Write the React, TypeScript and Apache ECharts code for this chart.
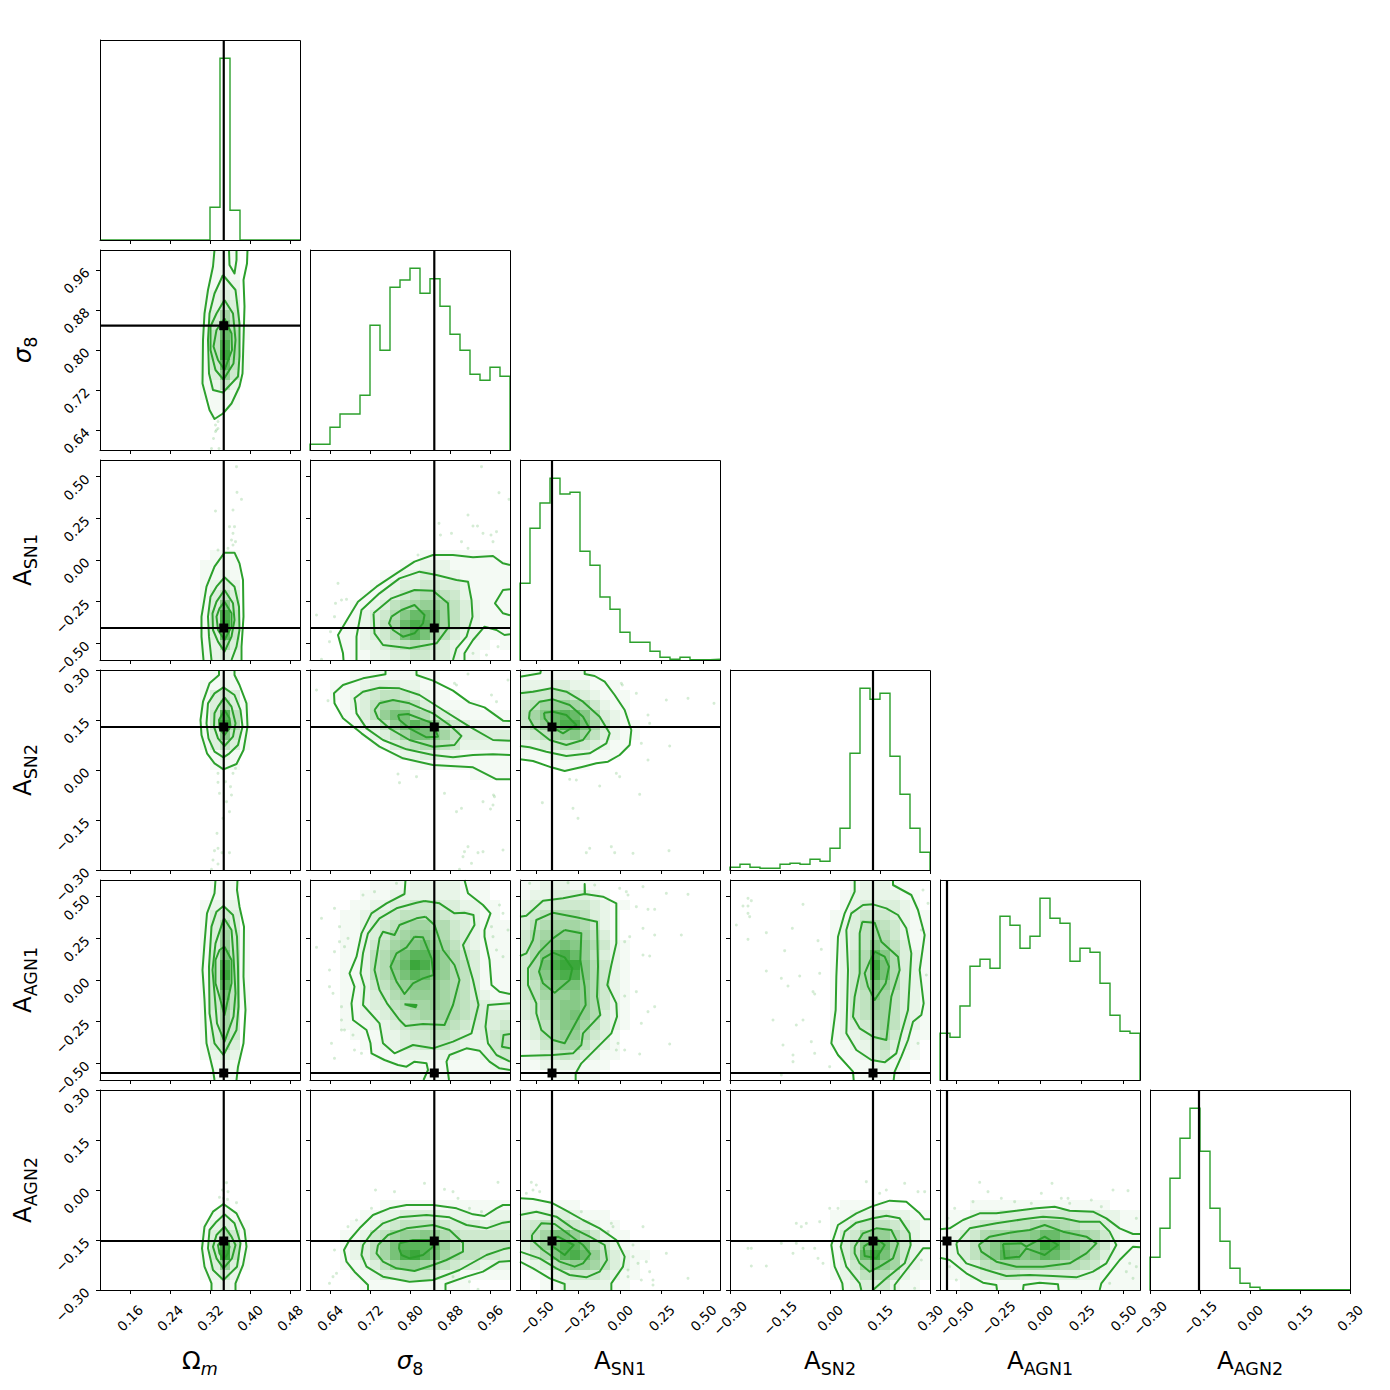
import React, { useEffect, useRef } from "react";
import * as echarts from "echarts";

// ---------- parameter ranges, ticks, true values ----------
const omegaRange = [0.1, 0.5];
const sigmaRange = [0.6, 1.0];
const sn1Range = [-0.6, 0.6];
const sn2Range = [-0.3, 0.3];
const agn1Range = [-0.6, 0.6];
const agn2Range = [-0.3, 0.3];

const omegaTicks = [0.16, 0.24, 0.32, 0.4, 0.48];
const sigmaTicks = [0.64, 0.72, 0.8, 0.88, 0.96];
const sn1Ticks = [-0.5, -0.25, 0, 0.25, 0.5];
const sn2Ticks = [-0.3, -0.15, 0, 0.15, 0.3];
const agn1Ticks = [-0.5, -0.25, 0, 0.25, 0.5];
const agn2Ticks = [-0.3, -0.15, 0, 0.15, 0.3];

const truths = [0.3475, 0.8486, -0.408, 0.129, -0.558, -0.153];
const axisNames = ["{b|Ω}{si|m}", "{i|σ}{s|8}", "{b|A}{s|SN1}", "{b|A}{s|SN2}", "{b|A}{s|AGN1}", "{b|A}{s|AGN2}"];
const ranges = [omegaRange, sigmaRange, sn1Range, sn2Range, agn1Range, agn2Range];
const ticks = [omegaTicks, sigmaTicks, sn1Ticks, sn2Ticks, agn1Ticks, agn2Ticks];

// ---------- 1-D histograms (20 bins, heights on a 0-200 scale) ----------
const histOmega = [0, 0, 0, 0, 0, 0, 0, 0, 0, 0, 0, 32.7, 181.7, 29.7, 0, 0, 0, 0, 0, 0];
const histSigma = [5.7, 5.7, 22.7, 36, 36, 54.7, 124.7, 99.7, 162.7, 170, 181.7, 156.7, 171.3, 143.7, 115.7, 99.7, 75.7, 69.7, 82.7, 73.7];
const histSn1 = [76.7, 131.7, 157, 181.7, 166, 167.7, 108.7, 94.7, 63, 50.7, 27.7, 17.7, 17.7, 8.7, 2.7, 0.7, 2.7, 0.3, 0.3, 0.7];
const histSn2 = [2.7, 5.7, 2.7, 1.7, 1.7, 5.7, 6.7, 5.7, 10.7, 8.7, 21.7, 41.7, 116.7, 181.7, 170.7, 176.7, 113.7, 75.7, 41.7, 17.7];
const histAgn1 = [46.7, 42.7, 74, 113.7, 120.7, 111.7, 163.7, 154.7, 131.7, 143.7, 181.7, 161.7, 156.7, 118.7, 131.7, 127.7, 96.7, 64.7, 48.7, 46.7];
const histAgn2 = [32.7, 61.7, 111.7, 151.7, 181.7, 138.7, 81.7, 48.7, 21.7, 6.7, 2.7, 0.3, 0.2, 0.2, 0.2, 0.2, 0.2, 0.2, 0.2, 0.2];
const hists = [histOmega, histSigma, histSn1, histSn2, histAgn1, histAgn2];

// ---------- 2-D panels: contours (x,y,x,y,… in data units), density rows (top row first, hex 0-f), faint samples ----------
const contoursSigmaOmega = [
  [.329,1,.326,.967,.316,.92,.309,.873,.306,.82,.305,.733,.319,.68,.329,.662,.346,.673,.363,.693,.379,.727,.385,.753,.387,.82,.389,.887,.387,.94,.394,.973,.395,1],
  [.346,.95,.371,.92,.379,.853,.379,.787,.376,.747,.346,.715,.326,.72,.318,.753,.316,.82,.319,.873,.329,.913,.346,.95],
  [.358,1,.359,.97,.369,.953,.373,.98,.373,1],
  [.349,.9,.366,.873,.371,.82,.367,.773,.347,.741,.331,.76,.321,.8,.321,.847,.333,.873,.349,.9],
  [.349,.863,.363,.833,.364,.8,.349,.76,.336,.78,.327,.807,.333,.84,.349,.863],
];
const cellsSigmaOmega = ["00000000000111000000","00000000000111000000","00000000000121000000","00000000000122000000","00000000001232000000","00000000001243000000","00000000001374000000","00000000001495100000","000000000015b6100000","000000000015d6000000","000000000015e6100000","000000000014b5100000","00000000001384000000","00000000001252000000","00000000001121000000","00000000000111000000","00000000000100000000"];
const dotsSigmaOmega = [.336,.657,.331,.65,.336,.643,.331,.637,.333,.64,.327,.623,.323,.603,.338,.603];

const contoursSn1Omega = [
  [.307,-.6,.303,-.46,.303,-.34,.313,-.16,.329,-.04,.349,.044,.369,.044,.379,-.02,.386,-.12,.387,-.34,.383,-.52,.383,-.6],
  [.323,-.6,.318,-.46,.316,-.34,.321,-.22,.333,-.16,.349,-.104,.369,-.16,.378,-.28,.379,-.42,.373,-.52,.363,-.6],
  [.349,-.18,.366,-.26,.369,-.36,.363,-.46,.349,-.55,.336,-.49,.326,-.42,.325,-.32,.333,-.25,.349,-.18],
  [.349,-.25,.363,-.32,.363,-.4,.349,-.48,.336,-.42,.333,-.34,.339,-.29,.349,-.25],
];
const cellsSn1Omega = ["","","","","","","","","","00000000000111000000","00000000001111000000","00000000001121000000","00000000001232000000","00000000001353000000","00000000001394000000","000000000014d5000000","000000000014e5000000","000000000013b4000000","00000000001263000000","00000000001232000000"];
const dotsSn1Omega = [.373,.56,.374,.406,.383,.364,.331,.294,.366,.3,.359,.2,.369,.2,.366,.16,.363,.12,.371,.11,.366,.09,.356,.07,.336,.06];

const contoursSn2Omega = [
  [.338,.3,.338,.285,.319,.26,.306,.205,.301,.15,.303,.105,.314,.05,.329,.02,.347,.002,.373,.018,.387,.06,.395,.13,.393,.2,.379,.255,.369,.285,.369,.3],
  [.347,.248,.369,.225,.381,.18,.385,.13,.376,.075,.359,.05,.347,.038,.329,.055,.317,.095,.313,.14,.316,.2,.329,.23,.347,.248],
  [.349,.218,.363,.19,.371,.14,.366,.1,.349,.072,.336,.095,.328,.13,.329,.17,.336,.19,.349,.218],
  [.349,.18,.359,.155,.361,.13,.349,.105,.339,.125,.338,.15,.349,.18],
];
const cellsSn2Omega = ["00000000000111000000","00000000001121000000","00000000001343000000","00000000001363100000","000000000014c5100000","000000000014e6100000","00000000001394100000","00000000001353100000","00000000000121000000","00000000000111000000"];
const dotsSn2Omega = [.336,-.01,.366,-.01,.371,.005,.336,-.037,.351,-.035,.361,-.05,.339,-.07,.363,-.075,.353,-.095,.359,-.125,.346,-.145,.334,-.19,.336,-.235,.329,-.242,.344,-.248,.359,-.248,.326,-.27,.336,-.282,.323,-.298];

const contoursAgn1Omega = [
  [.331,.6,.329,.52,.314,.4,.309,.22,.305,.06,.309,-.12,.313,-.38,.326,-.54,.329,-.6],
  [.373,-.6,.376,-.52,.387,-.38,.391,-.18,.387,.02,.388,.32,.379,.44,.374,.54,.375,.6],
  [.347,.444,.366,.39,.374,.26,.376,.08,.377,-.16,.373,-.3,.347,-.45,.329,-.38,.319,-.2,.318,.08,.323,.32,.333,.41,.347,.444],
  [.348,.37,.363,.3,.367,.14,.371,-.08,.367,-.22,.349,-.37,.334,-.26,.329,-.08,.325,.06,.331,.22,.348,.37],
  [.349,.2,.363,.12,.363,-.02,.349,-.21,.339,-.1,.331,-.02,.331,.12,.339,.18,.349,.2],
];
const cellsAgn1Omega = ["00000000000111000000","00000000000111000000","00000000001222000000","00000000001343000000","00000000001363000000","00000000001374100000","00000000001384100000","000000000014a5100000","000000000014d5100000","000000000014e5100000","000000000014c5100000","000000000014a5100000","00000000001485100000","00000000001374000000","00000000001374000000","00000000001364000000","00000000001353000000","00000000001232000000","00000000000121000000","00000000000111000000"];

const contoursAgn2Omega = [
  [.323,-.3,.323,-.28,.309,-.23,.304,-.175,.309,-.11,.326,-.065,.347,-.042,.373,-.07,.389,-.12,.393,-.17,.386,-.225,.371,-.28,.371,-.3],
  [.349,-.073,.369,-.1,.381,-.16,.374,-.23,.347,-.27,.326,-.24,.316,-.175,.319,-.12,.333,-.095,.349,-.073],
  [.349,-.11,.363,-.14,.371,-.165,.364,-.205,.347,-.235,.333,-.205,.326,-.17,.333,-.135,.349,-.11],
  [.348,-.14,.359,-.17,.356,-.19,.347,-.21,.339,-.19,.336,-.165,.348,-.14],
];
const cellsAgn2Omega = ["","","","","","","","","","","","00000000000010000000","00000000000121000000","00000000001232100000","00000000001364100000","000000000014d5100000","000000000014e5100000","00000000001383100000","00000000001242000000","00000000000121000000"];
const dotsAgn2Omega = [.353,.022,.345,0,.356,-.005,.339,-.022,.347,-.025,.355,-.028,.373,-.038];

const contoursSn1Sigma = [
  [.667,-.6,.666,-.56,.656,-.45,.676,-.35,.696,-.25,.733,-.16,.773,-.08,.809,-.01,.846,.03,.886,.03,.926,.016,.966,.024,.986,-.02,1,-.03],
  [.909,-.6,.909,-.56,.926,-.48,.949,-.4,.973,-.42,.989,-.45,1,-.446],
  [1,-.176,.986,-.18,.97,-.26,.986,-.32,1,-.332],
  [.693,-.6,.693,-.46,.703,-.3,.739,-.2,.779,-.11,.819,-.07,.853,-.09,.893,-.12,.916,-.13,.923,-.24,.925,-.34,.913,-.46,.893,-.53,.886,-.6],
  [.727,-.32,.763,-.23,.809,-.18,.846,-.184,.876,-.26,.878,-.4,.853,-.5,.799,-.53,.746,-.51,.729,-.44,.727,-.32],
  [.763,-.34,.783,-.3,.809,-.27,.829,-.33,.826,-.38,.809,-.44,.786,-.46,.766,-.42,.758,-.38,.763,-.34],
];
const cellsSn1Sigma = ["","","","","","","","","","00000000000111111110","00000000011222111111","00000001122332211111","00000011233443321111","00000112345665421111","00001123567887532111","0000123469bba7532111","000112357bdca7532111","000112346aca75322111","00011223456543211101","00001122334433211000"];
const dotsSn1Sigma = [.943,.56,.978,.404,.998,.364,.916,.27,.858,.22,.861,.15,.883,.16,.926,.204,.935,.204,.946,.16,.962,.15,.973,.17,.903,.11,.916,.07,.966,.11,.816,.03,.656,-.14,.663,-.24,.673,-.236,.651,-.26,.613,-.33,.649,-.34,.641,-.43,.639,-.49,.976,-.52,.953,-.57,.926,-.56,.623,-.596];

const contoursSn2Sigma = [
  [.751,.3,.751,.287,.706,.275,.666,.255,.648,.23,.649,.2,.666,.155,.703,.11,.739,.07,.786,.035,.846,.015,.926,.008,.973,-.028,1,-.028],
  [.813,.3,.813,.285,.846,.268,.886,.238,.919,.202,.949,.188,.986,.148,1,.147],
  [1,.045,.966,.047,.926,.045,.886,.038,.846,.045,.793,.062,.746,.09,.713,.125,.693,.17,.691,.2,.689,.215,.706,.235,.739,.247,.779,.245,.819,.225,.866,.18,.919,.13,.966,.09,1,.088],
  [.729,.18,.739,.2,.766,.21,.799,.2,.846,.17,.879,.135,.903,.102,.889,.075,.846,.07,.799,.09,.759,.125,.736,.155,.729,.18],
  [.776,.165,.796,.168,.846,.14,.856,.1,.833,.098,.799,.125,.779,.15,.776,.165],
];
const cellsSn2Sigma = ["00001111111110000000","00111233322110000000","00112345543211000000","00012357765321111000","00011358aa7643211111","000012358aca86432222","0000012357aa97533333","00000011345665422222","00000000122332211111","00000000001111111111","00000000000000001111"];
const dotsSn2Sigma = [.613,.24,.636,.208,.889,.26,.916,.288,.893,.255,.963,.225,.973,.205,.996,.27,.776,-.012,.813,-.02,.779,-.038,.869,-.07,.903,-.115,.946,-.095,.966,-.105,.961,-.117,.916,-.23,.909,-.245,.936,-.248,.946,-.245,.986,-.24,.967,-.075,.969,-.08,.906,-.26,.923,-.28,.899,-.298,.893,-.125];

const contoursSn2Sn1 = [
  [-.6,.28,-.478,.29,-.474,.3],
  [-.212,.3,-.212,.288,-.152,.282,-.092,.265,-.032,.225,.028,.18,.068,.12,.058,.075,-.002,.045,-.072,.025,-.142,.02,-.222,.01,-.332,-.003,-.412,.008,-.522,.027,-.6,.032],
  [-.6,.23,-.522,.235,-.412,.245,-.322,.235,-.222,.205,-.122,.16,-.062,.11,-.082,.08,-.182,.05,-.322,.042,-.442,.055,-.542,.068,-.6,.072],
  [-.542,.175,-.482,.205,-.402,.212,-.302,.195,-.222,.16,-.178,.12,-.222,.09,-.322,.075,-.422,.09,-.512,.125,-.546,.155,-.542,.175],
  [-.456,.172,-.402,.175,-.322,.165,-.262,.135,-.342,.11,-.412,.13,-.452,.155,-.456,.172],
];
const cellsSn2Sn1 = ["11111111000000000000","22233221110000000000","34455432111000000000","45788764211000000000","579bcb96321000000000","468bdda7421100000000","34578975321100000000","22345543211000000000","11122221110000000000","00011110000000000000"];
const dotsSn2Sn1 = [.008,.26,.014,.255,.098,.23,.168,.165,.178,.14,.278,.21,.408,.215,.564,.2,.128,.08,.298,.072,.168,.03,-.002,-.02,-.122,-.048,-.262,-.03,-.302,-.028,.118,-.073,-.466,-.098,-.282,-.115,-.252,-.145,-.202,-.248,-.182,-.235,-.052,-.23,.078,-.25,.294,-.242,-.032,-.248,-.022,-.01];

const contoursAgn1Sigma = [
  [.791,.6,.789,.516,.753,.46,.723,.4,.703,.28,.693,.14,.679,.04,.689,-.04,.683,-.14,.686,-.24,.713,-.3,.721,-.38,.723,-.44,.749,-.48,.776,-.51,.793,-.52,.809,-.49,.833,-.5,.836,-.54,.827,-.6],
  [.909,.6,.916,.52,.946,.45,.961,.4,.949,.3,.949,.26,.959,.12,.963,-.03,.979,-.07,1,-.084],
  [.878,-.6,.873,-.49,.879,-.45,.913,-.41,.939,-.424,.959,-.49,.979,-.53,1,-.54],
  [1,-.14,.956,-.15,.951,-.28,.956,-.38,.973,-.45,1,-.49],
  [1,-.324,.987,-.33,.984,-.4,1,-.41],
  [.829,.474,.813,.464,.773,.43,.739,.37,.716,.28,.706,.16,.701,.04,.709,-.04,.706,-.15,.739,-.26,.746,-.38,.769,-.44,.806,-.39,.846,-.41,.886,-.37,.923,-.32,.937,-.15,.926,0,.906,.21,.929,.33,.927,.39,.909,.404,.889,.4,.859,.46,.829,.474],
  [.831,.38,.813,.37,.779,.33,.769,.27,.746,.29,.739,.25,.729,.06,.739,-.06,.754,-.14,.779,-.24,.791,-.276,.826,-.264,.869,-.27,.886,-.15,.899,0,.889,.09,.866,.18,.849,.33,.831,.38],
  [.809,.26,.826,.256,.843,.13,.847,.03,.826,.01,.806,-.02,.789,-.084,.773,-.01,.761,.08,.773,.16,.793,.196,.809,.26],
  [.789,-.146,.813,-.15,.811,-.164,.789,-.146],
];
const cellsAgn1Sigma = ["00000011112222211100","00000111222222211100","00001122334443322110","00011233455554332110","00011234567766432111","00011234678876432111","00011245789a87532111","000112568acca8643111","000112569beda8653111","000112568acb98653111","00011245789987653111","00011234678887653211","00011233567787654322","00011223456777654333","00011122345566543334","00001112234455432345","00000112233444322245","00000011122222211234","00000001111111111122","00000000111111111111"];
const dotsAgn1Sigma = [.649,.43,.623,.37,.659,.32,.676,.25,.659,.23,.613,.196,.669,.2,.649,.17,.639,.06,.639,-.04,.646,-.08,.663,-.16,.663,-.24,.663,-.3,.669,-.3,.686,-.33,.703,-.44,.649,-.47,.643,-.38,.689,-.42,.706,.51,.729,.53,.773,.58,.979,.45,.986,.4,.963,.32,.973,.18,.986,.14,.996,.3,.966,.26];

const contoursAgn1Sn1 = [
  [-.6,.38,-.562,.386,-.462,.476,-.342,.49,-.212,.516,-.212,.576,-.21,.516,-.102,.5,-.022,.46,-.022,.22,-.052,.09,-.076,-.03,-.022,-.14,-.018,-.22,-.052,-.32,-.142,-.41,-.232,-.5,-.266,-.56,-.266,-.6],
  [-.6,.144,-.562,.16,-.522,.24,-.502,.36,-.402,.404,-.262,.376,-.138,.35,-.132,.08,-.138,-.1,-.118,-.21,-.222,-.32,-.232,-.39,-.282,-.44,-.402,-.45,-.6,-.456],
  [-.332,.3,-.232,.28,-.238,.12,-.212,-.04,-.206,-.15,-.262,-.25,-.332,-.38,-.402,-.36,-.472,-.3,-.502,-.2,-.502,-.14,-.552,-.03,-.552,.07,-.482,.17,-.402,.25,-.332,.3],
  [-.402,.164,-.332,.136,-.286,.07,-.302,0,-.392,-.076,-.462,-.02,-.486,.05,-.462,.13,-.402,.164],
];
const cellsAgn1Sn1 = ["11222111000000000000","12233332100000000000","23344443211000000000","34566653210000000000","35677764210000000000","46788875310000000000","4689a986421000000000","469cdb85321000000000","46adee96421000000000","469cdd96421000000000","458aaa86421000000000","45788986421000000000","34689986421000000000","34689a86321000000000","23579975321000000000","23578864310000000000","12467753210000000000","12345432110000000000","11222211100000000000","00011111000000000000"];
const dotsAgn1Sn1 = [-.542,.58,-.312,.584,-.152,.57,-.002,.55,.038,.53,.048,.51,.138,.56,.408,.514,.278,.52,.098,.44,.168,.424,.208,.424,.138,.31,.058,.26,.208,.27,.028,.23,.178,.144,.138,.15,.368,.27,.028,-.096,.098,-.07,.168,-.19,.208,-.16,.128,-.26,.028,-.42,.298,-.384,.118,-.444,-.022,-.42,-.012,-.38];

const contoursAgn1Sn2 = [
  [.074,.6,.074,.53,.044,.4,.024,.26,.019,.02,.017,-.18,.004,-.38,.024,-.45,.069,-.55,.071,-.6],
  [.189,.6,.189,.57,.244,.51,.264,.42,.284,.27,.269,.06,.281,-.14,.274,-.21,.249,-.25,.234,-.36,.214,-.46,.194,-.55,.191,-.6],
  [.129,.454,.099,.45,.064,.4,.049,.3,.054,.06,.051,-.18,.049,-.32,.079,-.42,.124,-.48,.164,-.494,.199,-.44,.214,-.32,.234,-.18,.244,.16,.229,.31,.204,.39,.169,.43,.129,.454],
  [.097,.35,.134,.344,.154,.23,.204,.14,.209,.06,.184,-.1,.169,-.36,.129,-.34,.089,-.29,.069,-.22,.074,-.1,.089,.04,.089,.28,.097,.35],
  [.134,.17,.164,.14,.177,.08,.167,-.02,.134,-.12,.114,-.04,.104,.04,.119,.11,.134,.17],
];
const cellsAgn1Sn2 = ["00000000000012221100","00000000000122222110","00000000000123333210","00000000001134443211","00000000001235654211","00000000001235764211","00000000001235975311","00000000001246c96321","00000000001246ea6321","00000000001246da6321","00000000001246a86321","00000000001245975321","00000000001245875321","00000000001245775321","00000000001234675321","00000000001223564211","00000000001122453210","00000000000112342110","00000000000011221100","00000000000001111000"];
const dotsAgn1Sn2 = [-.246,.49,-.236,.476,-.246,.444,-.261,.444,-.246,.4,-.241,.38,-.281,.33,-.246,.244,-.191,.284,-.113,.31,-.081,.454,-.136,.176,-.026,.184,-.036,.236,-.191,.054,-.146,.01,-.091,.024,-.031,.04,-.126,-.036,-.051,-.07,-.046,-.084,-.081,-.24,-.101,-.27,-.171,-.24,-.056,-.37,-.141,-.39,-.111,-.45,-.046,-.44,-.001,-.52,-.111,-.49,.279,.54,.294,.46,.274,.3,.289,.03,.264,-.38,-.146,-.57];

const contoursAgn2Sigma = [
  [.716,-.3,.716,-.285,.689,-.245,.673,-.215,.668,-.18,.679,-.15,.699,-.115,.726,-.075,.759,-.055,.793,-.045,.846,-.045,.893,-.055,.926,-.073,.949,-.078,.973,-.055,.986,-.045,1,-.045],
  [.871,-.3,.871,-.282,.913,-.26,.946,-.245,.979,-.215,1,-.213],
  [1,-.095,.986,-.098,.953,-.115,.913,-.105,.879,-.082,.833,-.075,.779,-.082,.746,-.1,.723,-.13,.706,-.165,.703,-.195,.713,-.23,.746,-.26,.799,-.275,.846,-.27,.899,-.24,.953,-.195,.986,-.178,1,-.173],
  [.736,-.165,.756,-.135,.793,-.115,.846,-.105,.879,-.12,.906,-.158,.906,-.185,.873,-.21,.846,-.225,.809,-.243,.773,-.235,.746,-.215,.733,-.19,.736,-.165],
  [.779,-.16,.806,-.15,.843,-.15,.846,-.17,.826,-.195,.799,-.205,.783,-.195,.778,-.175,.779,-.16],
];
const cellsAgn2Sigma = ["","","","","","","","","","","","00000001111111111111","00000112233332221122","00001123455554333233","00011245788986544444","00012357acccb8655555","00012357adeca7655443","00011235788765433222","00001123344432211111","00000111111111110000"];
const dotsAgn2Sigma = [.829,.02,.976,.023,.731,0,.769,-.005,.869,.002,.886,-.005,.896,-.025,.723,-.055,.693,-.09,.676,-.11,.649,-.18,.646,-.26,.639,-.28,.653,-.25,.919,-.055,.943,-.065,.886,-.26,.919,-.275,.936,-.298];

const contoursAgn2Sn1 = [
  [-.6,-.025,-.522,-.027,-.412,-.038,-.322,-.062,-.222,-.09,-.122,-.115,-.022,-.15,.028,-.2,.018,-.23,-.052,-.28,-.052,-.3],
  [-.6,-.215,-.522,-.235,-.422,-.265,-.332,-.282,-.332,-.3],
  [-.6,-.075,-.502,-.065,-.382,-.08,-.282,-.115,-.182,-.14,-.092,-.165,-.078,-.21,-.122,-.245,-.202,-.262,-.302,-.255,-.382,-.235,-.482,-.205,-.6,-.185],
  [-.528,-.135,-.472,-.1,-.392,-.102,-.302,-.135,-.222,-.165,-.178,-.192,-.222,-.22,-.272,-.23,-.362,-.215,-.462,-.18,-.528,-.15,-.528,-.135],
  [-.432,-.148,-.372,-.14,-.278,-.165,-.332,-.195,-.402,-.17,-.432,-.148],
];
const cellsAgn2Sn1 = ["","","","","","","","","","","","11111100000000000000","22233211100000000000","34555432110000000000","457aa864211000000000","358bdca6421100000000","2469cdb8532110000000","12357887532100000000","01123444321100000000","00112222211000000000"];
const dotsAgn2Sn1 = [-.532,.023,-.502,.015,-.522,0,-.482,-.005,-.562,-.01,-.232,-.065,-.052,-.1,.138,-.11,-.072,-.125,.048,-.24,.048,-.26,.078,-.2,.108,-.22,.158,-.215,.178,-.245,.128,-.27,.198,-.27,.408,-.265,.278,-.19,.198,-.285,.078,-.165,-.042,-.11];

const contoursAgn2Sn2 = [
  [.039,-.3,.037,-.28,.014,-.23,.004,-.165,.024,-.105,.079,-.07,.124,-.05,.179,-.032,.229,-.035,.269,-.07,.284,-.088,.3,-.088],
  [.194,-.3,.194,-.285,.229,-.24,.279,-.175,.3,-.175],
  [.094,-.3,.089,-.28,.049,-.23,.032,-.17,.044,-.125,.079,-.098,.129,-.085,.169,-.077,.209,-.085,.239,-.13,.242,-.165,.224,-.22,.169,-.265,.129,-.3],
  [.074,-.17,.099,-.13,.139,-.115,.184,-.12,.204,-.16,.189,-.205,.149,-.23,.119,-.245,.089,-.22,.074,-.19,.074,-.17],
  [.101,-.17,.139,-.145,.164,-.165,.139,-.205,.104,-.198,.101,-.17],
];
const cellsAgn2Sn2 = ["","","","","","","","","","","","00000000000111111000","00000000001122332211","00000000001234554321","00000000001347886421","00000000001359cb7421","0000000000135bea7421","00000000001247a87321","00000000001235664211","00000000000123342110"];
const dotsAgn2Sn2 = [-.246,-.175,-.236,-.175,-.236,-.228,-.191,-.228,-.146,-.16,-.101,-.16,-.081,-.175,-.046,-.175,-.111,-.19,-.036,-.205,-.021,-.22,-.101,-.1,-.086,-.11,-.071,-.1,-.031,-.095,-.001,-.055,.024,-.055,.109,.025,.149,-.01,.169,0,.224,.02,.264,-.005,.284,-.005,.254,-.295,.274,-.21];

const contoursAgn2Agn1 = [
  [-.6,-.118,-.542,-.115,-.462,-.09,-.362,-.07,-.262,-.07,-.142,-.062,-.022,-.055,.088,-.05,.178,-.062,.318,-.065,.398,-.085,.478,-.115,.558,-.132,.6,-.132],
  [-.6,-.203,-.542,-.21,-.442,-.25,-.342,-.278,-.262,-.285,-.258,-.3],
  [-.102,-.3,-.098,-.285,-.002,-.278,.108,-.283,.112,-.3],
  [.358,-.3,.368,-.28,.478,-.21,.558,-.17,.6,-.172],
  [-.502,-.16,-.422,-.115,-.262,-.1,-.102,-.088,.018,-.08,.138,-.085,.238,-.095,.358,-.095,.418,-.125,.458,-.165,.398,-.22,.318,-.245,.218,-.262,.078,-.258,-.062,-.255,-.202,-.258,-.322,-.24,-.442,-.22,-.492,-.19,-.502,-.16],
  [-.368,-.165,-.302,-.14,-.182,-.128,-.062,-.12,.028,-.105,.138,-.125,.278,-.14,.338,-.16,.278,-.19,.178,-.22,.018,-.23,-.142,-.23,-.262,-.215,-.352,-.185,-.368,-.165],
  [-.222,-.162,-.112,-.16,-.082,-.17,.028,-.14,.108,-.165,.028,-.195,-.082,-.175,-.122,-.2,-.212,-.205,-.222,-.162],
];
const cellsAgn2Agn1 = ["","","","","","","","","","","","00011111111111111000","11122233334443332211","11234445567765443211","1234677889bb98764211","123579ba9aeda8764211","123579cb9acb98753211","11235677777766542111","11123344333333221111","00111111111111111111"];
const dotsAgn2Agn1 = [-.362,.023,-.312,-.005,-.402,-.035,-.232,-.025,-.152,-.035,-.052,-.04,.008,-.01,.072,.02,.128,-.025,.168,-.025,.178,-.04,.308,-.03,.368,-.05,.438,0,.528,-.002,-.512,-.055,-.552,-.085,.578,-.085,.538,-.22,.518,-.245,.578,-.23,.558,-.265,.418,-.28,-.542,-.23,-.502,-.27];

// row, column, contours, density rows, samples
const panels: [number, number, number[][], string[], number[]][] = [
  [1, 0, contoursSigmaOmega, cellsSigmaOmega, dotsSigmaOmega],
  [2, 0, contoursSn1Omega, cellsSn1Omega, dotsSn1Omega],
  [3, 0, contoursSn2Omega, cellsSn2Omega, dotsSn2Omega],
  [4, 0, contoursAgn1Omega, cellsAgn1Omega, []],
  [5, 0, contoursAgn2Omega, cellsAgn2Omega, dotsAgn2Omega],
  [2, 1, contoursSn1Sigma, cellsSn1Sigma, dotsSn1Sigma],
  [3, 1, contoursSn2Sigma, cellsSn2Sigma, dotsSn2Sigma],
  [4, 1, contoursAgn1Sigma, cellsAgn1Sigma, dotsAgn1Sigma],
  [5, 1, contoursAgn2Sigma, cellsAgn2Sigma, dotsAgn2Sigma],
  [3, 2, contoursSn2Sn1, cellsSn2Sn1, dotsSn2Sn1],
  [4, 2, contoursAgn1Sn1, cellsAgn1Sn1, dotsAgn1Sn1],
  [5, 2, contoursAgn2Sn1, cellsAgn2Sn1, dotsAgn2Sn1],
  [4, 3, contoursAgn1Sn2, cellsAgn1Sn2, dotsAgn1Sn2],
  [5, 3, contoursAgn2Sn2, cellsAgn2Sn2, dotsAgn2Sn2],
  [5, 4, contoursAgn2Agn1, cellsAgn2Agn1, dotsAgn2Agn1],
];

// ---------- layout and style ----------
const GREEN = "#2ca02c";
const FONT = "DejaVu Sans";
const BINS = 20;
const HIST_MAX = 200;
const panelLeft = (c: number) => 100 + 210 * c;
const panelTop = (r: number) => 40 + 210 * r;
const PANEL = 200;

const pairs = (flat: number[]) => {
  const out: number[][] = [];
  for (let i = 0; i + 1 < flat.length; i += 2) out.push([flat[i], flat[i + 1]]);
  return out;
};
const tickText = (v: number) => v.toFixed(2).replace("-", "\u2212");
const shade = (t: number) => {
  const g = Math.pow(t, 1.1);
  const mix = (a: number) => Math.round(255 + (a - 255) * g);
  return `rgb(${mix(44)},${mix(160)},${mix(44)})`;
};

const nameStyle = {
  color: "#000",
  fontFamily: FONT,
  fontSize: 24.5,
  align: "center",
  verticalAlign: "middle",
  rich: {
    b: { fontFamily: FONT, fontSize: 24.5, verticalAlign: "top", color: "#000" },
    i: { fontFamily: FONT, fontSize: 24.5, fontStyle: "italic", verticalAlign: "top", color: "#000" },
    s: { fontFamily: FONT, fontSize: 17.5, verticalAlign: "bottom", padding: [12, 0, 0, 0], color: "#000" },
    si: { fontFamily: FONT, fontSize: 17.5, fontStyle: "italic", verticalAlign: "bottom", padding: [12, 0, 0, 0], color: "#000" },
  },
};

function buildOption() {
  const grid: any[] = [];
  const xAxis: any[] = [];
  const yAxis: any[] = [];
  const series: any[] = [];
  const frames: any[] = [];

  const addAxes = (r: number, c: number, yParam: number | null) => {
    const left = panelLeft(c);
    const top = panelTop(r);
    grid.push({ left, top, width: PANEL, height: PANEL, containLabel: false, outerBoundsMode: "none", show: false });
    frames.push({
      type: "rect",
      silent: true,
      z: 100,
      shape: { x: left + 0.5, y: top + 0.5, width: PANEL, height: PANEL },
      style: { fill: "none", stroke: "#000", lineWidth: 1 },
    });
    const gridIndex = grid.length - 1;
    xAxis.push({
      type: "value",
      gridIndex,
      min: ranges[c][0],
      max: ranges[c][1],
      splitLine: { show: false },
      axisLine: { show: true, onZero: false, lineStyle: { color: "#000", width: 1 } },
      axisTick: { show: true, length: 4, customValues: ticks[c], lineStyle: { color: "#000", width: 1 } },
      axisLabel: {
        show: r === 5,
        customValues: ticks[c],
        rotate: 45,
        margin: 28,
        align: "center",
        verticalAlign: "middle",
        color: "#000",
        fontFamily: FONT,
        fontSize: 13.5,
        formatter: tickText,
      },
      ...(r === 5 ? { name: axisNames[c], nameLocation: "middle", nameGap: 73, nameTextStyle: nameStyle } : {}),
    });
    const isParam = yParam !== null;
    yAxis.push({
      type: "value",
      gridIndex,
      min: isParam ? ranges[yParam as number][0] : 0,
      max: isParam ? ranges[yParam as number][1] : HIST_MAX,
      splitLine: { show: false },
      axisLine: { show: true, onZero: false, lineStyle: { color: "#000", width: 1 } },
      axisTick: isParam
        ? { show: true, length: 4, customValues: ticks[yParam as number], lineStyle: { color: "#000", width: 1 } }
        : { show: false },
      axisLabel:
        isParam && c === 0
          ? {
              show: true,
              customValues: ticks[yParam as number],
              rotate: 45,
              margin: 13,
              align: "right",
              verticalAlign: "middle",
              color: "#000",
              fontFamily: FONT,
              fontSize: 13.5,
              formatter: tickText,
            }
          : { show: false },
      ...(isParam && c === 0
        ? { name: axisNames[yParam as number], nameLocation: "middle", nameGap: 75, nameRotate: 90, nameTextStyle: nameStyle }
        : {}),
    });
    return gridIndex;
  };

  const truthLine = (idx: number, pts: number[][]) => ({
    type: "line",
    xAxisIndex: idx,
    yAxisIndex: idx,
    data: pts,
    symbol: "none",
    silent: true,
    z: 6,
    lineStyle: { color: "#000", width: 2.2 },
  });

  // diagonal histograms
  for (let d = 0; d < 6; d++) {
    const idx = addAxes(d, d, null);
    const [lo, hi] = ranges[d];
    const step = (hi - lo) / BINS;
    const outline: number[][] = [[lo, 0]];
    hists[d].forEach((h, i) => {
      outline.push([lo + i * step, h], [lo + (i + 1) * step, h]);
    });
    outline.push([hi, 0]);
    series.push({
      type: "line",
      xAxisIndex: idx,
      yAxisIndex: idx,
      data: outline,
      symbol: "none",
      silent: true,
      z: 3,
      lineStyle: { color: GREEN, width: 1.4, join: "miter" },
    });
    series.push(truthLine(idx, [[truths[d], 0], [truths[d], HIST_MAX]]));
  }

  // 2-D panels
  panels.forEach(([r, c, contours, cells, dots]) => {
    const idx = addAxes(r, c, r);
    const [xLo, xHi] = ranges[c];
    const [yLo, yHi] = ranges[r];
    const dx = (xHi - xLo) / BINS;
    const dy = (yHi - yLo) / BINS;
    const cellData: number[][] = [];
    cells.forEach((row, ri) => {
      for (let ci = 0; ci < row.length; ci++) {
        const level = parseInt(row[ci], 16);
        if (level > 0) {
          cellData.push([xLo + ci * dx, xLo + (ci + 1) * dx, yHi - (ri + 1) * dy, yHi - ri * dy, level / 15]);
        }
      }
    });
    series.push({
      type: "custom",
      xAxisIndex: idx,
      yAxisIndex: idx,
      data: cellData,
      encode: { x: [0, 1], y: [2, 3] },
      silent: true,
      clip: true,
      z: 1,
      renderItem: (_p: any, api: any) => {
        const a = api.coord([api.value(0), api.value(3)]);
        const b = api.coord([api.value(1), api.value(2)]);
        return {
          type: "rect",
          shape: { x: Math.round(a[0]), y: Math.round(a[1]), width: Math.round(b[0]) - Math.round(a[0]), height: Math.round(b[1]) - Math.round(a[1]) },
          style: { fill: shade(api.value(4)) },
        };
      },
    });
    if (dots.length) {
      series.push({
        type: "scatter",
        xAxisIndex: idx,
        yAxisIndex: idx,
        data: pairs(dots),
        symbol: "circle",
        symbolSize: 3,
        silent: true,
        z: 2,
        itemStyle: { color: GREEN, opacity: 0.2 },
      });
    }
    contours.forEach((flat) => {
      series.push({
        type: "line",
        xAxisIndex: idx,
        yAxisIndex: idx,
        data: pairs(flat),
        symbol: "none",
        silent: true,
        z: 4,
        lineStyle: { color: GREEN, width: 2, join: "round" },
      });
    });
    series.push(truthLine(idx, [[truths[c], yLo], [truths[c], yHi]]));
    series.push(truthLine(idx, [[xLo, truths[r]], [xHi, truths[r]]]));
    series.push({
      type: "scatter",
      xAxisIndex: idx,
      yAxisIndex: idx,
      data: [[truths[c], truths[r]]],
      symbol: "rect",
      symbolSize: 9,
      silent: true,
      z: 7,
      itemStyle: { color: "#000", opacity: 1 },
    });
  });

  return { animation: false, backgroundColor: "#fff", grid, xAxis, yAxis, series, graphic: { elements: frames } };
}

export default function App() {
  const ref = useRef<HTMLDivElement>(null);
  useEffect(() => {
    const chart = echarts.init(ref.current as HTMLDivElement, null, { renderer: "svg" });
    chart.setOption(buildOption() as any);
    return () => chart.dispose();
  }, []);
  return <div ref={ref} style={{ position: "fixed", left: 0, top: 0, width: 1390, height: 1390 }} />;
}
